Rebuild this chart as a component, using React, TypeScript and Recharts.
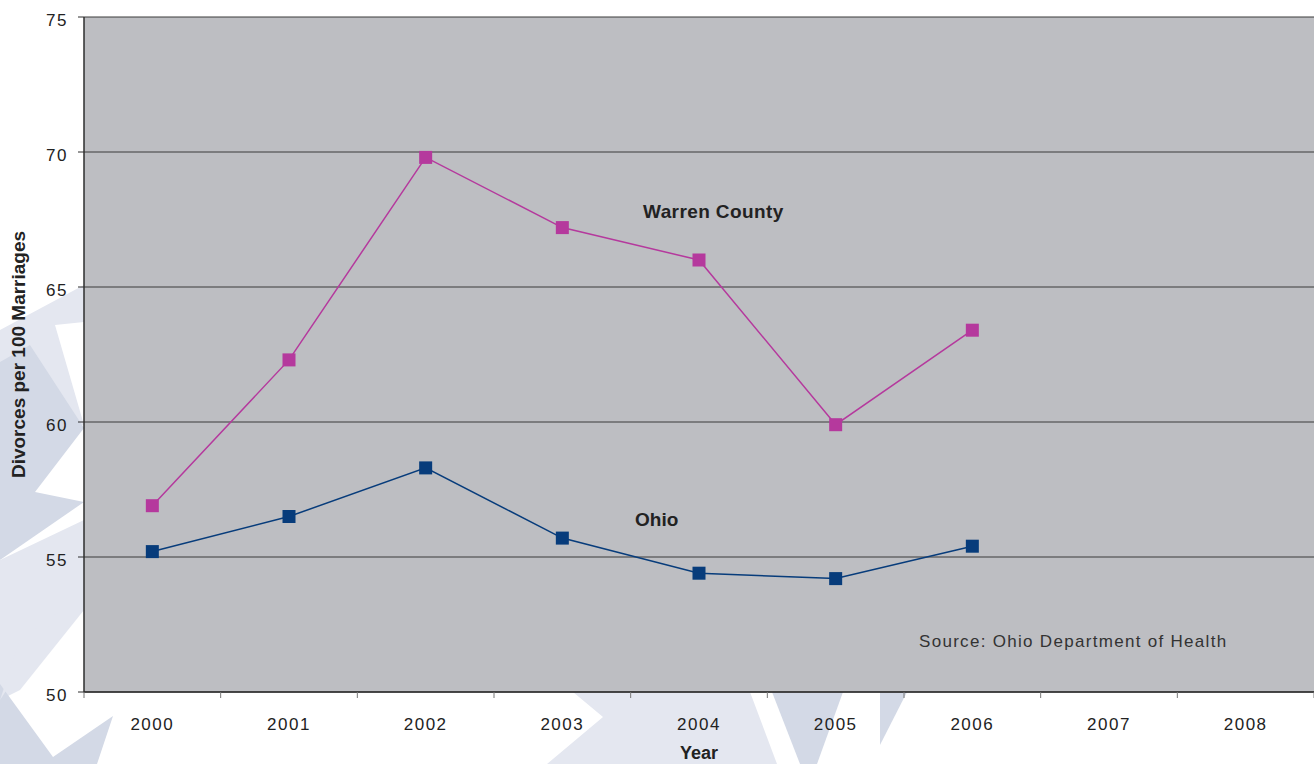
import React from 'react';
import { LineChart, Line, XAxis, YAxis, CartesianGrid } from 'recharts';

const years = ['2000', '2001', '2002', '2003', '2004', '2005', '2006', '2007', '2008'];
const warrenCounty = [56.9, 62.3, 69.8, 67.2, 66.0, 59.9, 63.4, null, null];
const ohio = [55.2, 56.5, 58.3, 55.7, 54.4, 54.2, 55.4, null, null];
const yTicks = [50, 55, 60, 65, 70, 75];

// each year sits in the middle of its band, tick marks on the band edges
const data = years.map((year, i) => ({ pos: i + 0.5, year, warren: warrenCounty[i], ohio: ohio[i] }));
const bandEdges = years.map((_, i) => i).concat(years.length);
const bandCenters = years.map((_, i) => i + 0.5);

const WIDTH = 1314;
const HEIGHT = 764;
const font = '"Liberation Sans", Arial, sans-serif';

const colors = {
  warren: '#B5399D',
  ohio: '#073C7B',
  plot: '#BDBEC2',
  grid: '#3a3a3a',
  axis: '#2e2e2e',
  text: '#222222',
  starLight: '#E4E7F0',
  starDark: '#D3D9E6',
};

const squareDot = (color: string) => (props: any) => {
  const { cx, cy, index } = props;
  if (cx == null || cy == null || props.value == null) return <g key={`d-${index}`} />;
  return <rect key={`d-${index}`} x={cx - 6.5} y={cy - 6.5} width={13} height={13} fill={color} />;
};

// decorative stars peeking out from behind the plot
const Backdrop = () => (
  <svg width={WIDTH} height={HEIGHT} style={{ position: 'absolute', left: 0, top: 0 }}>
    <polygon points="0,330 84,285 84,322 55,325 84,425 0,445" fill={colors.starLight} />
    <polygon points="0,362 30,345 84,428 35,492 84,502 0,560" fill={colors.starDark} />
    <polygon points="0,560 84,520 84,610 20,690 0,700" fill={colors.starLight} />
    <polygon points="0,684 53,757 113,716 97,764 0,764" fill={colors.starDark} />
    <polygon points="20,640 58,612 0,700" fill={colors.starLight} />
    <polygon points="573,692 750,692 777,764 547,764 603,717" fill={colors.starLight} />
    <polygon points="772,692 843,692 817,764 800,764" fill={colors.starDark} />
    <polygon points="880,692 907,692 880,745" fill={colors.starDark} />
  </svg>
);

const App: React.FC = () => {
  return (
    <div style={{ position: 'absolute', left: 0, top: 0, width: WIDTH, height: HEIGHT, overflow: 'hidden', background: '#fff', fontFamily: font }}>
      <Backdrop />
      <div style={{ position: 'absolute', left: 0, top: 0 }}>
        <LineChart width={WIDTH} height={HEIGHT} data={data} margin={{ top: 17, right: 0, bottom: 0, left: 0 }}>
          <CartesianGrid xAxisId="edges" vertical={false} fill={colors.plot} fillOpacity={1} stroke={colors.grid} strokeWidth={1} />
          <XAxis
            xAxisId="edges"
            type="number"
            dataKey="pos"
            domain={[0, years.length]}
            ticks={bandEdges}
            tickFormatter={() => ''}
            height={8}
            tickSize={6}
            axisLine={{ stroke: colors.axis, strokeWidth: 1.5 }}
            tickLine={{ stroke: '#777' }}
            allowDecimals
          />
          <XAxis
            xAxisId="labels"
            type="number"
            dataKey="pos"
            domain={[0, years.length]}
            ticks={bandCenters}
            tickFormatter={(v: number) => years[Math.floor(v)]}
            height={64}
            tickSize={0}
            tickMargin={18}
            axisLine={false}
            tickLine={false}
            interval={0}
            allowDecimals
            tick={{ fill: colors.text, fontSize: 17, fontFamily: font, letterSpacing: 1.5 }}
            label={{ value: 'Year', position: 'insideBottom', offset: 5, style: { fontWeight: 'bold', fontSize: 18, fill: colors.text, fontFamily: font } }}
          />
          <YAxis
            type="number"
            domain={[50, 75]}
            ticks={yTicks}
            width={84}
            tickSize={6}
            tickMargin={10}
            axisLine={{ stroke: colors.axis, strokeWidth: 1.5 }}
            tickLine={{ stroke: colors.axis }}
            tick={{ fill: colors.text, fontSize: 17, fontFamily: font, letterSpacing: 1.5, dy: 3 }}
            label={{
              value: 'Divorces per 100 Marriages',
              angle: -90,
              position: 'insideLeft',
              offset: 18,
              style: { textAnchor: 'middle', fontWeight: 'bold', fontSize: 19, fill: colors.text, fontFamily: font },
            }}
          />
          <Line
            xAxisId="edges"
            dataKey="warren"
            stroke={colors.warren}
            strokeWidth={1.5}
            dot={squareDot(colors.warren)}
            activeDot={false}
            isAnimationActive={false}
          />
          <Line
            xAxisId="edges"
            dataKey="ohio"
            stroke={colors.ohio}
            strokeWidth={1.5}
            dot={squareDot(colors.ohio)}
            activeDot={false}
            isAnimationActive={false}
          />
        </LineChart>
      </div>
      <svg width={WIDTH} height={HEIGHT} style={{ position: 'absolute', left: 0, top: 0, pointerEvents: 'none' }}>
        <text x={643} y={218} fontFamily={font} fontSize={19} fontWeight="bold" fill={colors.text} letterSpacing={0.4}>Warren County</text>
        <text x={635} y={526} fontFamily={font} fontSize={19} fontWeight="bold" fill={colors.text}>Ohio</text>
        <text x={919} y={647} fontFamily={font} fontSize={17} fill="#333" letterSpacing={1.3}>Source: Ohio Department of Health</text>
      </svg>
    </div>
  );
};

export default App;
